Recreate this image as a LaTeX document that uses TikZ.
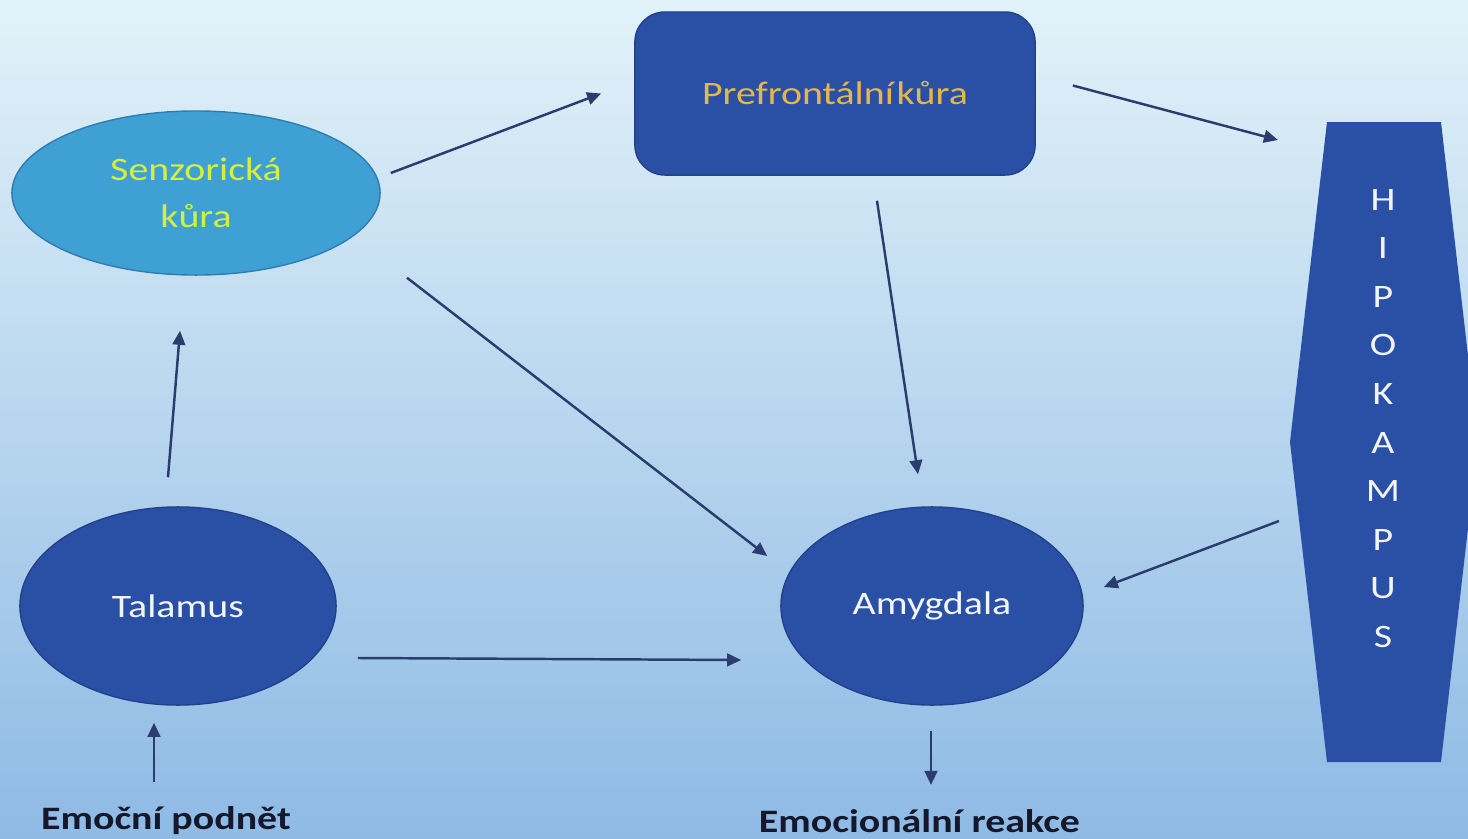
\documentclass[tikz,border=0pt]{standalone}
\usepackage{fontspec}
\setmainfont{Carlito}[FakeStretch=1.22]
\usetikzlibrary{shapes.geometric,arrows.meta}
\definecolor{bgtop}{HTML}{E2F2F9}
\definecolor{bgmid}{HTML}{C2DEF1}
\definecolor{bgbot}{HTML}{8EBAE4}
\definecolor{dblue}{HTML}{2A50A6}
\definecolor{dborder}{HTML}{22418A}
\definecolor{lblue}{HTML}{3FA0D3}
\definecolor{lborder}{HTML}{2F7DB0}
\definecolor{lime}{HTML}{D4EF3E}
\definecolor{gold}{HTML}{E6B64C}
\definecolor{arrowc}{HTML}{2B3D6E}
\definecolor{labelc}{HTML}{14182A}
\definecolor{softwhite}{HTML}{F2F4FA}
\tikzset{
  oval/.style={ellipse, inner sep=0pt, align=center},
  darkoval/.style={oval, fill=dblue, draw=dborder, line width=0.4pt, text=softwhite},
  arr/.style={draw=arrowc, line width=0.7pt, -{Triangle[length=4pt,width=3.6pt]}},
  lbl/.style={inner sep=0pt, font=\fontsize{9.3pt}{11pt}\selectfont\bfseries, text=labelc}
}
\begin{document}
\begin{tikzpicture}[x=0.01cm,y=-0.01cm,font=\fontsize{9.3pt}{13.4pt}\selectfont]
\useasboundingbox (0,0) rectangle (1468,839);
\shade[top color=bgtop, middle color=bgmid, bottom color=bgbot] (0,0) rectangle (1468,839);

% hippocampus shape
\fill[dblue] (1327,122) -- (1441,122) -- (1478,442) -- (1441,762) -- (1327,762) -- (1290,442) -- cycle;

\node[oval, fill=lblue, draw=lborder, line width=0.4pt, minimum width=3.68cm, minimum height=1.64cm, text=lime] (senz) at (196,193) {Senzorická\\kůra};
\node[rectangle, rounded corners=0.3cm, fill=dblue, draw=dborder, line width=0.4pt, minimum width=4cm, minimum height=1.63cm, inner sep=0pt, text=gold] (pref) at (835,93.5) {Prefrontální\hspace{0.08em}kůra};
\node[darkoval, minimum width=3.16cm, minimum height=1.98cm] (tal) at (178,606) {Talamus};
\node[darkoval, minimum width=3.02cm, minimum height=1.98cm] (amyg) at (932,606) {Amygdala};
\node[inner sep=0pt, align=center, text=softwhite, font=\fontsize{9.3pt}{13.82pt}\selectfont] (hip) at (1383,418.5) {H\\I\\P\\O\\K\\A\\M\\P\\U\\S};

\node[lbl] (podnet) at (166,821) {Emoční podnět};
\node[lbl] (reakce) at (919.5,821) {Emocionální reakce};

\draw[arr] ([shift={(10,-20)}]senz.east) -- ([shift={(-33,0)}]pref.west);
\draw[arr] ([shift={(37,-8)}]pref.east) -- ([shift={(-105,-278.5)}]hip.center);
\draw[arr] ([shift={(42,25)}]pref.south) -- ([shift={(-14,-32)}]amyg.north);
\draw[arr] ([shift={(211,2)}]senz.south) -- ([shift={(-13,-50)}]amyg.west);
\draw[arr] ([shift={(-10,-29)}]tal.north) -- ([shift={(-16,55)}]senz.south);
\draw[arr] ([shift={(21,52)}]tal.east) -- ([shift={(-39,54)}]amyg.west);
\draw[arr] ([shift={(-104,102.5)}]hip.center) -- ([shift={(20,-19)}]amyg.east);
\draw[arr] ([shift={(-12,-39)}]podnet.center) -- ([shift={(-24,17)}]tal.south);
\draw[arr] ([shift={(-1,25)}]amyg.south) -- ([shift={(11.5,-36)}]reakce.center);
\end{tikzpicture}
\end{document}
